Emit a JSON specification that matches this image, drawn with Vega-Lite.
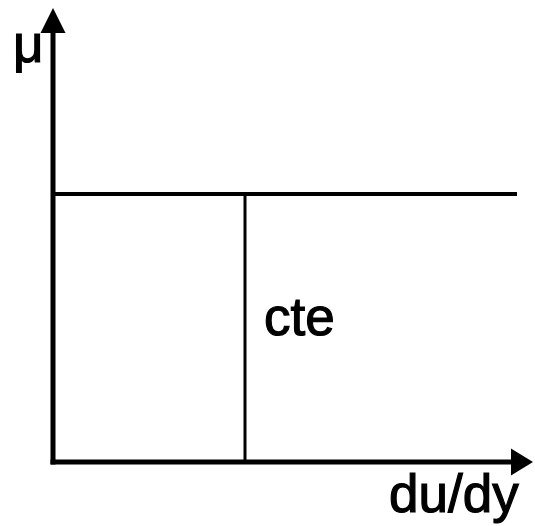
{
  "$schema": "https://vega.github.io/schema/vega-lite/v6.json",
  "width": 535,
  "height": 526,
  "padding": 0,
  "autosize": {"type": "fit", "contains": "padding"},
  "background": "white",
  "config": {"view": {"stroke": null}},
  "datasets": {
    "axes": [
      {"name": "du/dy axis", "x": -0.05, "x2": 9.18, "y": 0, "y2": 0},
      {"name": "mu axis", "x": 0, "x2": 0, "y": -0.05, "y2": 8.62}
    ],
    "mu": [
      {"name": "mu constant", "x": 0, "x2": 9.28, "y": 5.36, "y2": 5.36}
    ],
    "sep": [
      {"name": "separator", "x": 3.84, "x2": 3.84, "y": 0, "y2": 5.36}
    ],
    "arrowsUp": [{"x": 0, "y": 8.83}],
    "arrowsRight": [{"x": 9.33, "y": 0}],
    "labels": [
      {"x": -0.8, "y": 8.0, "text": "μ"},
      {"x": 4.22, "y": 2.54, "text": "cte"},
      {"x": 6.72, "y": -1.0, "text": "du/dy"}
    ]
  },
  "encoding": {
    "x": {"field": "x", "type": "quantitative", "scale": {"domain": [-1.06, 9.64], "nice": false, "zero": false}, "axis": null},
    "y": {"field": "y", "type": "quantitative", "scale": {"domain": [-1.28, 9.24], "nice": false, "zero": false}, "axis": null}
  },
  "layer": [
    {
      "data": {"name": "axes"},
      "mark": {"type": "rule", "strokeWidth": 5, "color": "black"},
      "encoding": {"x2": {"field": "x2"}, "y2": {"field": "y2"}}
    },
    {
      "data": {"name": "mu"},
      "mark": {"type": "rule", "strokeWidth": 4, "color": "black"},
      "encoding": {"x2": {"field": "x2"}, "y2": {"field": "y2"}}
    },
    {
      "data": {"name": "sep"},
      "mark": {"type": "rule", "strokeWidth": 3, "color": "black"},
      "encoding": {"x2": {"field": "x2"}, "y2": {"field": "y2"}}
    },
    {
      "data": {"name": "arrowsUp"},
      "mark": {"type": "point", "shape": "M0,-1L1,1L-1,1Z", "size": 625, "filled": true, "color": "black", "opacity": 1, "strokeWidth": 0}
    },
    {
      "data": {"name": "arrowsRight"},
      "mark": {"type": "point", "shape": "M1,0L-0.63,-1L-0.63,1Z", "size": 729, "filled": true, "color": "black", "opacity": 1, "strokeWidth": 0}
    },
    {
      "data": {"name": "labels"},
      "mark": {"type": "text", "align": "left", "baseline": "alphabetic", "font": "Liberation Sans", "fontSize": 53, "color": "black", "stroke": "black", "strokeWidth": 1.2},
      "encoding": {"text": {"field": "text"}}
    }
  ]
}
